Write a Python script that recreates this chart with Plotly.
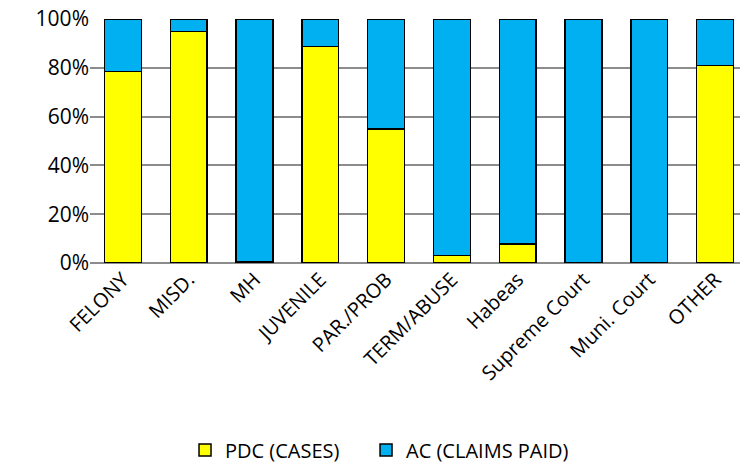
import plotly.graph_objects as go

categories = ["FELONY", "MISD.", "MH", "JUVENILE", "PAR./PROB", "TERM/ABUSE",
              "Habeas", "Supreme Court", "Muni. Court", "OTHER"]
pdc_cases = [78.4, 94.8, 0.5, 88.7, 54.9, 3.0, 7.7, 0.0, 0.0, 81.0]
ac_claims = [100 - v for v in pdc_cases]
tick_vals = [0, 20, 40, 60, 80, 100]
tick_text = ["0%", "20%", "40%", "60%", "80%", "100%"]

font_family = "Open Sans, Liberation Sans, Arial, sans-serif"

fig = go.Figure()
fig.add_trace(go.Bar(x=categories, y=pdc_cases, name="PDC (CASES)", legend="legend",
                     showlegend=True,
                     marker=dict(color="#FFFF00", line=dict(color="black", width=1.5))))
fig.add_trace(go.Bar(x=categories, y=ac_claims, name="AC (CLAIMS PAID)", legend="legend2",
                     showlegend=True,
                     marker=dict(color="#00B0F0", line=dict(color="black", width=1.5))))

legend_common = dict(orientation="h", xanchor="left", y=-0.766, yanchor="middle",
                     font=dict(size=20), itemwidth=30, bgcolor="rgba(0,0,0,0)")

fig.update_layout(
    showlegend=True,
    barmode="stack",
    bargap=0.44,
    width=740, height=455,
    margin=dict(l=82, r=0, t=11, b=200, autoexpand=False),
    plot_bgcolor="white", paper_bgcolor="white",
    font=dict(family=font_family, size=20, color="black"),
    legend=dict(x=0.1444, **legend_common),
    legend2=dict(x=0.4195, **legend_common),
    xaxis=dict(tickangle=-45, showgrid=False, showline=False, ticks="",
               tickfont=dict(size=20), automargin=False),
    yaxis=dict(range=[0, 100], tickvals=tick_vals, ticktext=tick_text,
               showgrid=True, gridcolor="#8C8C8C", gridwidth=1.5,
               zeroline=True, zerolinecolor="#8C8C8C", zerolinewidth=1.5,
               showline=False, ticks="", tickfont=dict(size=21), automargin=False,
               ticklabeloverflow="allow"),
)

fig.write_html("out.html")
